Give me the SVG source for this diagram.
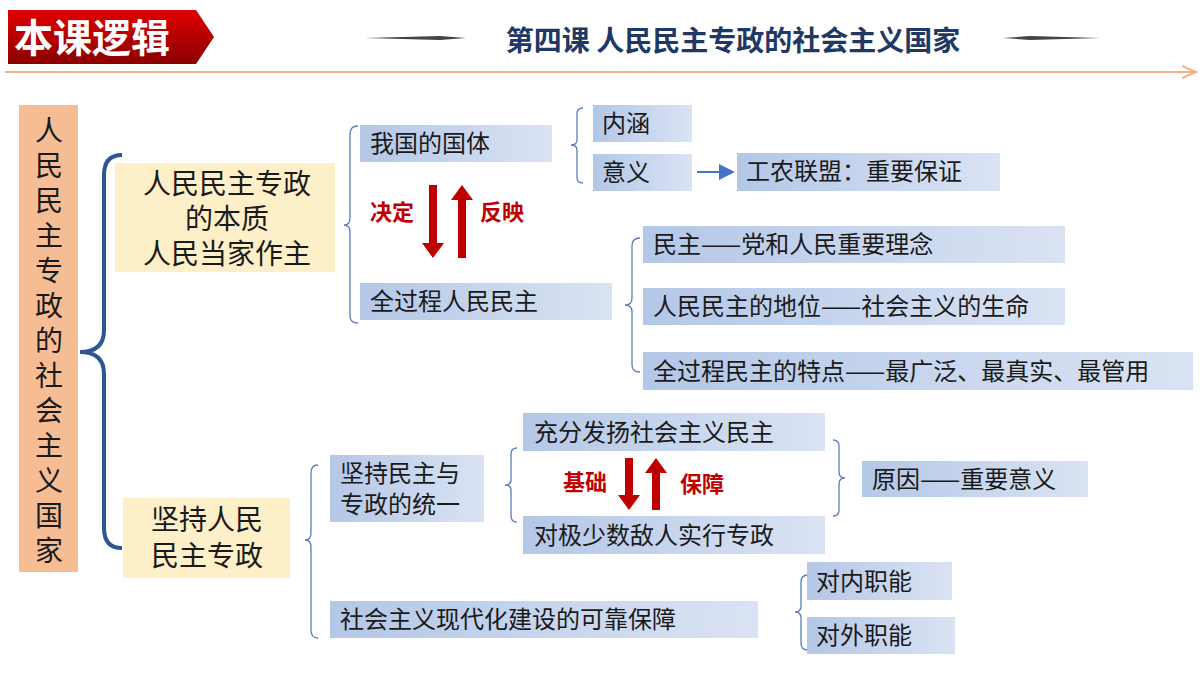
<svg xmlns="http://www.w3.org/2000/svg" width="1200" height="675" viewBox="0 0 1200 675">
<defs>
<linearGradient id="bg" x1="0" x2="1"><stop offset="0" stop-color="#b4c7e7"/><stop offset="1" stop-color="#dae3f3"/></linearGradient>
<linearGradient id="red" x1="0" y1="0" x2="0" y2="1"><stop offset="0" stop-color="#e00000"/><stop offset="1" stop-color="#8a0000"/></linearGradient>
<marker id="ah" markerWidth="8" markerHeight="8" refX="7" refY="4" orient="auto"><path d="M0,0L8,4L0,8z" fill="#4472c4"/></marker>
<marker id="oa" markerWidth="8" markerHeight="8" refX="7" refY="4" orient="auto"><path d="M0,1L7,4L0,7" fill="none" stroke="#f4b183"/></marker>
</defs>
<style>
.t{font-family:"Noto Sans CJK SC","Noto Sans",sans-serif;font-size:24px;fill:#1a1a1a}
.v{font-size:28px}
.big{font-size:28px}
.b{fill:url(#bg)}
.y{fill:#fdf0c8}
.br{fill:none;stroke:#5b7fb5;stroke-width:1.3}
.rt{font-family:"Noto Sans CJK SC",sans-serif;font-size:22px;font-weight:bold;fill:#c00000}
.ra{fill:#c00000}
</style>
<rect width="1200" height="675" fill="#fff"/>
<g id="header">
<path d="M8,10H196L214,37L196,64H8z" fill="url(#red)"/>
<text x="14" y="52" font-family="Noto Sans CJK SC,sans-serif" font-size="39" font-weight="bold" fill="#fff">本课逻辑</text>
<path d="M365,38L440,36L466,38L440,40z" fill="#444"/>
<path d="M1003,38L1030,36L1100,38L1030,40z" fill="#444"/>
<text x="733" y="51" text-anchor="middle" font-family="Noto Sans CJK SC,sans-serif" font-size="28" font-weight="bold" fill="#203864">第四课 人民民主专政的社会主义国家</text>
<line x1="5" y1="72" x2="1196" y2="72" stroke="#f4b183" stroke-width="2" marker-end="url(#oa)"/>
</g>
<g id="root"><rect x="19" y="105" width="59" height="467" fill="#f4b183" opacity="0.85"/>
<text class="t v" text-anchor="middle"><tspan x="49" y="141">人</tspan><tspan x="49" y="176">民</tspan><tspan x="49" y="211">民</tspan><tspan x="49" y="246">主</tspan><tspan x="49" y="281">专</tspan><tspan x="49" y="316">政</tspan><tspan x="49" y="351">的</tspan><tspan x="49" y="386">社</tspan><tspan x="49" y="421">会</tspan><tspan x="49" y="456">主</tspan><tspan x="49" y="491">义</tspan><tspan x="49" y="526">国</tspan><tspan x="49" y="561">家</tspan></text></g>
<g id="connectors">
<path d="M122,155Q104,155 104,175V330Q104,352 80,352Q104,352 104,374V528Q104,548 122,548" fill="none" stroke="#2f5597" stroke-width="4"/>
<path class="br" d="M358,126Q350,126 350,134V218Q350,225 344,225Q350,225 350,232V316Q350,323 358,323"/>
<path class="br" d="M583,108Q577,108 577,114V140Q577,145 571,145Q577,145 577,150V178Q577,183 583,183"/>
<line x1="697" y1="172" x2="733" y2="172" stroke="#4472c4" stroke-width="2" marker-end="url(#ah)"/>
<path class="br" d="M640,238Q632,238 632,246V298Q632,305 625,305Q632,305 632,312V365Q632,372 640,372"/>
<path class="br" d="M318,465Q311,465 311,473V533Q311,540 305,540Q311,540 311,547V630Q311,638 318,638"/>
<path class="br" d="M517,448Q511,448 511,454V480Q511,485 505,485Q511,485 511,490V516Q511,522 517,522"/>
<path class="br" d="M833,440Q839,440 839,446V472Q839,478 845,478Q839,478 839,484V510Q839,516 833,516"/>
<path class="br" d="M808,575Q801,575 801,582V606Q801,612 795,612Q801,612 801,618V643Q801,650 808,650"/>
<path class="ra" d="M429,185h8v58h7l-11,15l-11,-15h7z"/>
<path class="ra" d="M458,258h8v-58h7l-11,-15l-11,15h7z"/>
<path class="ra" d="M625,458h8v37h7l-11,15l-11,-15h7z"/>
<path class="ra" d="M652,510h8v-37h7l-11,-15l-11,15h7z"/>
</g>
<text class="rt" x="370" y="220">决定</text><text class="rt" x="480" y="220">反映</text>
<text class="rt" x="563" y="490">基础</text><text class="rt" x="680" y="492">保障</text>
<g id="n1"><rect class="y" x="115" y="163" width="220" height="109"/><text class="t big" text-anchor="middle"><tspan x="227" y="194">人民民主专政</tspan><tspan x="227" y="229">的本质</tspan><tspan x="227" y="264">人民当家作主</tspan></text></g>
<g id="n2"><rect class="y" x="123" y="498" width="167" height="80"/><text class="t big" text-anchor="middle"><tspan x="207" y="530">坚持人民</tspan><tspan x="207" y="566">民主专政</tspan></text></g>
<g id="n3"><rect class="b" x="360" y="125" width="192" height="37"/><text class="t" x="370" y="152">我国的国体</text></g>
<g id="n4"><rect class="b" x="360" y="283" width="252" height="37"/><text class="t" x="370" y="310">全过程人民民主</text></g>
<g id="n5"><rect class="b" x="593" y="105" width="99" height="37"/><text class="t" x="602" y="132">内涵</text></g>
<g id="n6"><rect class="b" x="593" y="154" width="99" height="37"/><text class="t" x="602" y="181">意义</text></g>
<g id="n7"><rect class="b" x="737" y="153" width="263" height="38"/><text class="t" x="746" y="180">工农联盟：重要保证</text></g>
<g id="n8"><rect class="b" x="643" y="226" width="422" height="37"/><text class="t" x="653" y="253">民主——党和人民重要理念</text></g>
<g id="n9"><rect class="b" x="643" y="288" width="422" height="37"/><text class="t" x="653" y="315">人民民主的地位——社会主义的生命</text></g>
<g id="n10"><rect class="b" x="643" y="352" width="550" height="38"/><text class="t" x="653" y="380">全过程民主的特点——最广泛、最真实、最管用</text></g>
<g id="n11"><rect class="b" x="330" y="455" width="154" height="67"/><text class="t"><tspan x="340" y="482">坚持民主与</tspan><tspan x="340" y="513">专政的统一</tspan></text></g>
<g id="n12"><rect class="b" x="330" y="601" width="428" height="37"/><text class="t" x="340" y="628">社会主义现代化建设的可靠保障</text></g>
<g id="n13"><rect class="b" x="523" y="413" width="302" height="38"/><text class="t" x="534" y="441">充分发扬社会主义民主</text></g>
<g id="n14"><rect class="b" x="523" y="516" width="302" height="38"/><text class="t" x="534" y="544">对极少数敌人实行专政</text></g>
<g id="n15"><rect class="b" x="862" y="461" width="226" height="36"/><text class="t" x="872" y="488">原因——重要意义</text></g>
<g id="n16"><rect class="b" x="807" y="562" width="145" height="38"/><text class="t" x="816" y="590">对内职能</text></g>
<g id="n17"><rect class="b" x="807" y="617" width="148" height="37"/><text class="t" x="816" y="644">对外职能</text></g>
</svg>
